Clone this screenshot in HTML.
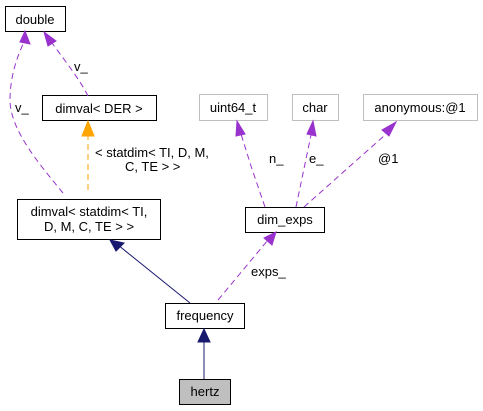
<!DOCTYPE html>
<html><head><style>
html,body{margin:0;padding:0;background:#fff;}
svg{display:block;}
text{font-family:"Liberation Sans",sans-serif;font-size:13px;fill:#000;}
</style></head><body>
<svg width="483" height="411" viewBox="0 0 483 411">
<g fill="#fff" stroke-width="1">
<rect x="5.5" y="6.5" width="60" height="25" stroke="#000"/>
<rect x="42.5" y="95.5" width="114" height="25" stroke="#000"/>
<rect x="17.5" y="199.5" width="143" height="40" stroke="#000"/>
<rect x="199.5" y="94.5" width="68" height="26" stroke="#bfbfbf"/>
<rect x="292.5" y="94.5" width="46" height="26" stroke="#bfbfbf"/>
<rect x="363.5" y="94.5" width="114" height="26" stroke="#bfbfbf"/>
<rect x="245.5" y="207.5" width="79" height="25" stroke="#000"/>
<rect x="165.5" y="303.5" width="79" height="25" stroke="#000"/>
<rect x="179.5" y="379.5" width="51" height="25" stroke="#000" fill="#bfbfbf"/>
</g>
<text x="35" y="24" text-anchor="middle">double</text>
<text x="99" y="113" text-anchor="middle">dimval&lt; DER &gt;</text>
<text x="89" y="216" text-anchor="middle">dimval&lt; statdim&lt; TI,</text>
<text x="89" y="231" text-anchor="middle">D, M, C, TE &gt; &gt;</text>
<text x="233" y="112" text-anchor="middle">uint64_t</text>
<text x="315" y="112" text-anchor="middle">char</text>
<text x="420" y="112" text-anchor="middle">anonymous:@1</text>
<text x="285" y="224" text-anchor="middle">dim_exps</text>
<text x="205" y="320" text-anchor="middle">frequency</text>
<text x="205" y="396" text-anchor="middle">hertz</text>
<g fill="none" stroke="#9a32cd" stroke-dasharray="6,4">
<path d="M88,96 C80,80 66,62 52,43"/>
<path d="M63,193 C40,165 10,130 10,100 C10,75 18,55 24,42"/>
<path d="M265,207 L251,166 L241,134"/>
<path d="M296,207 L311,135"/>
<path d="M304,207 L385,135"/>
<path d="M218,300 L268,240"/>
</g>
<path d="M88,190 L88,135" stroke="#ffa500" stroke-dasharray="6,4" fill="none"/>
<path d="M190,303 L118,245" stroke="#191970"/>
<path d="M204,379 L204,342" stroke="#191970"/>
<g fill="#9a32cd" stroke="#9a32cd">
<polygon points="44,32 56,41 48,46"/>
<polygon points="25,31 30,44 20,42"/>
<polygon points="237,121 245,134 236,136"/>
<polygon points="313,121 316,136 307,134"/>
<polygon points="396,122 389,136 382,130"/>
<polygon points="276,232 272,245 264,238"/>
</g>
<polygon points="88,121 94,136 82,136" fill="#ffa500" stroke="#ffa500"/>
<polygon points="110,240 124,243 116,251" fill="#191970" stroke="#191970"/>
<polygon points="204,329 210,342 198,342" fill="#191970" stroke="#191970"/>
<text x="74" y="71">v_</text>
<text x="15" y="112">v_</text>
<text x="95" y="157">&lt; statdim&lt; TI, D, M,</text>
<text x="125" y="171">C, TE &gt; &gt;</text>
<text x="269" y="163">n_</text>
<text x="309" y="163">e_</text>
<text x="378" y="163">@1</text>
<text x="251" y="276">exps_</text>
</svg>
</body></html>
